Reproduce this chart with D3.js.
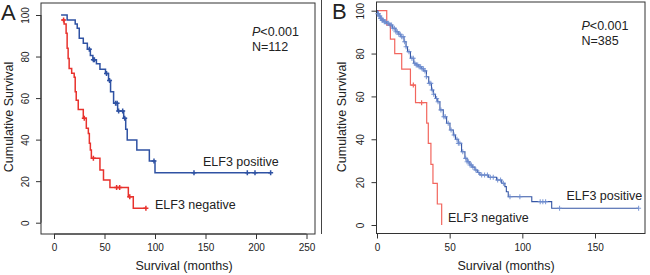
<!DOCTYPE html>
<html>
<head>
<meta charset="utf-8">
<script src="https://cdn.jsdelivr.net/npm/d3@7"></script>
<style>
  body { margin: 0; background: #fff; }
  text { font-family: "Liberation Sans", Arial, sans-serif; fill: #222; }
</style>
</head>
<body>
<div id="chart"></div>
<script>
// panel A (N=112) - step curves
const aPosTime = [7, 13, 21, 23, 25, 29, 33, 36, 38.5, 42, 45.5, 51, 54, 56, 59, 63, 69, 71, 72.5, 82, 94.4, 100, 214.5];
const aPosSurv = [100, 97.6, 95.7, 93.6, 88.8, 86.4, 83.5, 80.5, 78.5, 76.5, 73.9, 71.8, 68.5, 63, 57.5, 53.8, 50.3, 45, 39.8, 35, 29.7, 24, 24];
const aPosCens = [35, 39, 40, 52, 55, 61, 62.5, 64, 68, 70, 99, 138.6, 191.4, 199, 214.5];
const aNegTime = [8, 10, 12, 13, 14, 15, 17.5, 20, 21, 22, 24, 29, 32, 34, 35, 36, 37, 45.5, 49, 55.4, 73.6, 78.5, 91];
const aNegSurv = [97.6, 95.7, 91.2, 84, 79, 74.3, 71.9, 70, 63, 59, 54.5, 50.3, 45.5, 43, 38.2, 35, 31, 25.4, 20.6, 17, 12.5, 6.9, 6.9];
const aNegCens = [9.5, 30, 39, 62, 65, 75, 91];

// panel B (N=385)
const bPosTime = [0, 0.5, 1.5, 2.5, 3.5, 4.8, 6.5, 8.3, 10.6, 13, 15, 16.4, 18.6, 20, 21, 23, 25.3, 27, 28.7, 30.5, 32.1, 34, 35.6, 37.5, 38.8, 40.2, 41.5, 43.3, 45.6, 47.9, 50.2, 52.5, 54, 55.9, 58.2, 60.5, 62, 63.9, 65.5, 67.4, 69, 70.8, 76.6, 82.3, 85.8, 88, 89, 90.3, 106.5, 120.2, 180];
const bPosSurv = [100, 98.6, 97.5, 96.4, 95.6, 94.9, 94.1, 93.3, 91.8, 90.2, 89, 87.9, 85.5, 83.2, 80.9, 77.8, 75.5, 74.7, 73.9, 72.9, 71.9, 69.2, 66.1, 63, 61, 59, 57.5, 53.7, 50.5, 47.5, 44.3, 42, 40, 38.1, 34.2, 31.1, 29.5, 28, 27, 25.7, 24.5, 23.3, 22.3, 21, 19.5, 17.9, 15.5, 13.2, 10.9, 7.8, 7.8];
const bPosCens = [0.5, 1, 1.5, 2, 2.5, 3, 3.5, 4, 5, 5.5, 6, 7, 8, 9, 10, 11, 12, 13, 14, 15, 16, 17, 18, 19, 20, 22, 24, 25, 26, 27, 28, 29, 30, 31, 32, 33, 34, 36, 37, 38, 39, 41, 42, 44, 46, 47, 49, 51, 53, 55, 56, 57, 59, 61, 62, 63, 64, 65, 66, 68, 70, 72, 74, 76, 78, 80, 83, 85, 87, 91.5, 98.3, 112.3, 114.1, 116, 125.6, 180];
const bNegTime = [0, 6.7, 9.2, 12.2, 17, 23, 26.5, 34.2, 35.3, 37.1, 38.5, 41.5, 44.5];
const bNegSurv = [100, 93.3, 86.7, 80, 72.7, 65.3, 57.1, 47.5, 38.1, 28.3, 19.4, 9.8, 0];
const bNegCens = [25, 30.7];

const yTicks = [0, 20, 40, 60, 80, 100];
const aXTicks = [0, 50, 100, 150, 200, 250];
const bXTicks = [0, 50, 100, 150];

const W = 650, H = 275;
const svg = d3.select("#chart").append("svg")
  .attr("width", W).attr("height", H);

function survAt(times, surv, t) {
  const i = d3.bisectRight(times, t) - 1;
  return surv[Math.max(0, i)];
}

function drawPanel(cfg) {
  const g = svg.append("g");
  const x = d3.scaleLinear().domain(cfg.xDomain).range(cfg.xRange);
  const y = d3.scaleLinear().domain([0, 100]).range(cfg.yRange);

  // box
  g.append("rect")
    .attr("x", cfg.box[0]).attr("y", cfg.box[1])
    .attr("width", cfg.box[2] - cfg.box[0]).attr("height", cfg.box[3] - cfg.box[1])
    .attr("fill", "none").attr("stroke", "#333").attr("stroke-width", 1);

  // x axis
  const xAxis = g.append("g")
    .attr("transform", `translate(0,${cfg.box[3]})`)
    .call(d3.axisBottom(x).tickValues(cfg.xTicks).tickSize(5).tickPadding(5));
  xAxis.select(".domain").attr("d", `M${x(cfg.xTicks[0])},0H${x(cfg.xTicks[cfg.xTicks.length - 1])}`).attr("stroke", "#333");
  xAxis.selectAll(".tick line").attr("stroke", "#333");
  xAxis.selectAll("text").style("font-size", "10px").attr("fill", "#222")
    .style("font-family", "'Liberation Sans', Arial, sans-serif");

  // y axis with rotated labels
  const yAxis = g.append("g")
    .attr("transform", `translate(${cfg.box[0]},0)`)
    .call(d3.axisLeft(y).tickValues(yTicks).tickSize(5));
  yAxis.select(".domain").attr("d", `M0,${y(0)}V${y(100)}`).attr("stroke", "#333");
  yAxis.selectAll(".tick line").attr("stroke", "#333");
  yAxis.selectAll("text")
    .style("font-size", "10px").attr("fill", "#222")
    .style("font-family", "'Liberation Sans', Arial, sans-serif")
    .attr("x", 0).attr("dy", 0)
    .attr("text-anchor", "middle")
    .attr("transform", `translate(${cfg.yLabX - cfg.box[0]},0) rotate(-90)`);

  // axis titles
  g.append("text")
    .attr("x", cfg.xTitle[0]).attr("y", cfg.xTitle[1])
    .attr("text-anchor", "middle").style("font-size", "12.5px")
    .text("Survival (months)");
  g.append("text")
    .attr("transform", `translate(${cfg.yTitle[0]},${cfg.yTitle[1]}) rotate(-90)`)
    .attr("text-anchor", "middle").style("font-size", "12.5px")
    .text("Cumulative Survival");

  // panel letter
  g.append("text")
    .attr("x", cfg.letter[0]).attr("y", cfg.letter[1])
    .style("font-size", "22px").text(cfg.name);

  const line = d3.line()
    .x(d => x(d[0])).y(d => y(d[1]))
    .curve(d3.curveStepAfter);

  cfg.series.forEach(s => {
    const pts = s.time.map((t, i) => [t, s.surv[i]]);
    g.append("path")
      .datum(pts)
      .attr("fill", "none")
      .attr("stroke", s.color)
      .attr("stroke-width", s.width)
      .attr("d", line);
    const cg = g.append("g");
    s.cens.forEach(t => {
      const v = survAt(s.time, s.surv, t);
      cg.append("path")
        .attr("d", `M${x(t) - 2.5},${y(v)}H${x(t) + 2.5}M${x(t)},${y(v) - 2.5}V${y(v) + 2.5}`)
        .attr("stroke", s.censColor)
        .attr("stroke-width", s.width)
        .attr("stroke-opacity", s.censOpacity);
    });
  });

  // annotations
  const p = g.append("text").attr("x", cfg.pText[0]).attr("y", cfg.pText[1]).style("font-size", "12.5px");
  p.append("tspan").style("font-style", "italic").text("P");
  p.append("tspan").text("<0.001");
  g.append("text").attr("x", cfg.pText[0]).attr("y", cfg.pText[1] + 15)
    .style("font-size", "12.5px").text(cfg.nLabel);
  g.append("text").attr("x", cfg.posLab[0]).attr("y", cfg.posLab[1])
    .style("font-size", "12.5px").text("ELF3 positive");
  g.append("text").attr("x", cfg.negLab[0]).attr("y", cfg.negLab[1])
    .style("font-size", "12.5px").text("ELF3 negative");
}

drawPanel({
  name: "A", letter: [1, 20],
  xDomain: [0, 250], xRange: [54, 306.5], yRange: [222.7, 15],
  box: [41, 3, 315, 234], xTicks: aXTicks, yLabX: 28.5,
  xTitle: [184, 270], yTitle: [12.5, 117],
  pText: [252, 36], nLabel: "N=112",
  posLab: [203, 166], negLab: [155, 209],
  series: [
    {time: aPosTime, surv: aPosSurv, cens: aPosCens, color: "#2f52a3", censColor: "#2f52a3", censOpacity: 1, width: 1.5},
    {time: aNegTime, surv: aNegSurv, cens: aNegCens, color: "#e8322d", censColor: "#e8322d", censOpacity: 1, width: 1.5}
  ]
});

drawPanel({
  name: "B", letter: [332, 18.5],
  xDomain: [0, 150], xRange: [377, 595], yRange: [225, 10.7],
  box: [376.5, 2, 645, 233.5], xTicks: bXTicks, yLabX: 363.5,
  xTitle: [506, 270], yTitle: [346, 117],
  pText: [581.5, 30], nLabel: "N=385",
  posLab: [566.5, 200], negLab: [448, 222],
  series: [
    {time: bNegTime, surv: bNegSurv, cens: bNegCens, color: "#f2665e", censColor: "#f2665e", censOpacity: 1, width: 1.2},
    {time: bPosTime, surv: bPosSurv, cens: bPosCens, color: "#3556a5", censColor: "#6f8dd0", censOpacity: 0.85, width: 1.1}
  ]
});

// separator line between the two panels
svg.append("line")
  .attr("x1", 321.5).attr("x2", 321.5).attr("y1", 0).attr("y2", 234)
  .attr("stroke", "#444").attr("stroke-width", 1);
</script>
</body>
</html>
